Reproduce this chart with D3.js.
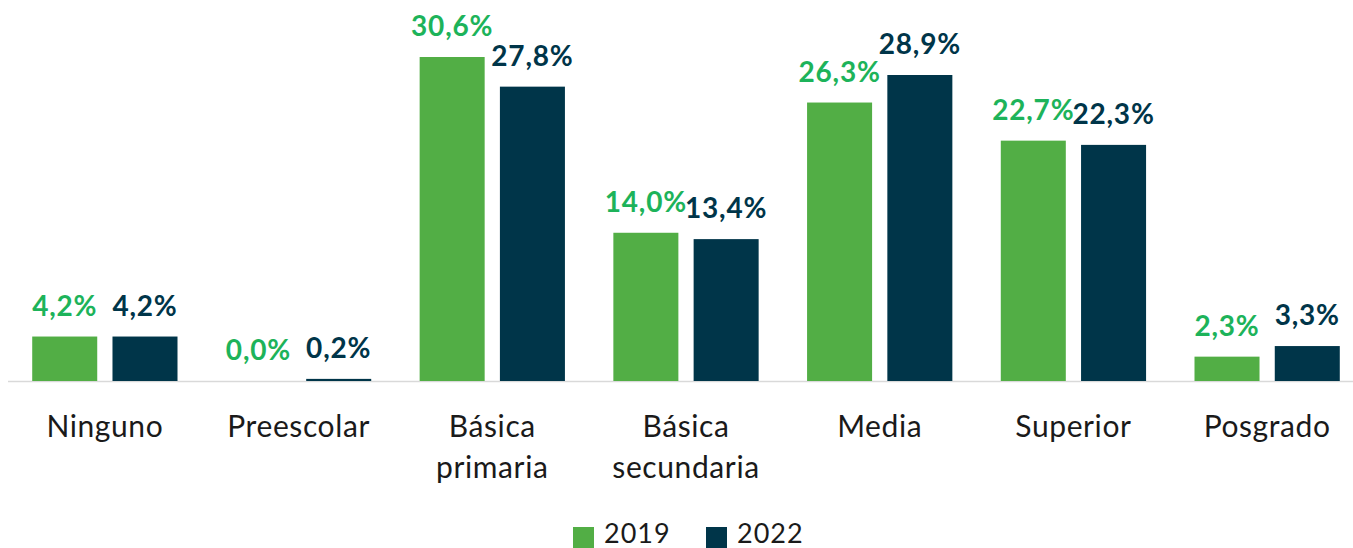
<!DOCTYPE html>
<html>
<head>
<meta charset="utf-8">
<script src="https://cdn.jsdelivr.net/npm/d3@7"></script>
<style>
  body { margin: 0; background: #fff; }
  svg { display: block; font-family: Lato, "Noto Sans", sans-serif; }
</style>
</head>
<body>
<svg id="chart" width="1353" height="548"></svg>
<script>
const categories = [['Ninguno'], ['Preescolar'], ['Básica', 'primaria'], ['Básica', 'secundaria'], ['Media'], ['Superior'], ['Posgrado']];
const years = ['2019', '2022'];
const values2019 = [4.2, 0.0, 30.6, 14.0, 26.3, 22.7, 2.3];
const values2022 = [4.2, 0.2, 27.8, 13.4, 28.9, 22.3, 3.3];

const barColors = { '2019': '#52ae45', '2022': '#003549' };
const labelColors = { '2019': '#1db35a', '2022': '#003549' };

const svg = d3.select('#chart');
const baseY = 381;

const x = d3.scaleBand()
    .domain(d3.range(categories.length))
    .range([8, 1364])
    .paddingInner(0.25)
    .paddingOuter(0.125);

const x1 = d3.scaleBand()
    .domain(years)
    .range([0, x.bandwidth()])
    .paddingInner(0.19);

const y = d3.scaleLinear().domain([0, 30.6]).range([baseY, 57]);

const rows = categories.map((c, i) => ({
    i, label: c,
    vals: [{ year: '2019', v: values2019[i] }, { year: '2022', v: values2022[i] }]
}));

// baseline
svg.append('line')
    .attr('x1', 8).attr('x2', 1353)
    .attr('y1', baseY + 0.5).attr('y2', baseY + 0.5)
    .attr('stroke', '#d9d9d9').attr('stroke-width', 1.5);

const g = svg.selectAll('g.cat').data(rows).join('g')
    .attr('class', 'cat')
    .attr('transform', d => `translate(${x(d.i)},0)`);

g.selectAll('rect').data(d => d.vals).join('rect')
    .attr('x', d => x1(d.year))
    .attr('width', x1.bandwidth())
    .attr('y', d => y(d.v))
    .attr('height', d => baseY - y(d.v))
    .attr('fill', d => barColors[d.year]);

g.selectAll('text.val').data(d => d.vals).join('text')
    .attr('class', 'val')
    .attr('x', d => x1(d.year) + x1.bandwidth() / 2)
    .attr('y', d => y(d.v) - 21)
    .attr('text-anchor', 'middle')
    .attr('font-size', 28)
    .attr('font-weight', 700)
    .attr('letter-spacing', 0.8)
    .attr('fill', d => labelColors[d.year])
    .text(d => d.v.toFixed(1).replace('.', ',') + '%');

g.append('text')
    .attr('x', x.bandwidth() / 2)
    .attr('y', 437)
    .attr('text-anchor', 'middle')
    .attr('font-size', 30)
    .attr('letter-spacing', 0.6)
    .attr('fill', '#1a1a1a')
    .selectAll('tspan').data(d => d.label).join('tspan')
    .attr('x', x.bandwidth() / 2)
    .attr('dy', (d, i) => i === 0 ? 0 : 41)
    .text(d => d);

// legend
const legend = [{ year: '2019', x: 573 }, { year: '2022', x: 706 }];
const lg = svg.selectAll('g.leg').data(legend).join('g')
    .attr('class', 'leg')
    .attr('transform', d => `translate(${d.x},0)`);
lg.append('rect')
    .attr('y', 527).attr('width', 21).attr('height', 21)
    .attr('fill', d => barColors[d.year]);
lg.append('text')
    .attr('x', 31).attr('y', 543)
    .attr('font-size', 27)
    .attr('letter-spacing', 1)
    .attr('fill', '#1a1a1a')
    .text(d => d.year);
</script>
</body>
</html>
